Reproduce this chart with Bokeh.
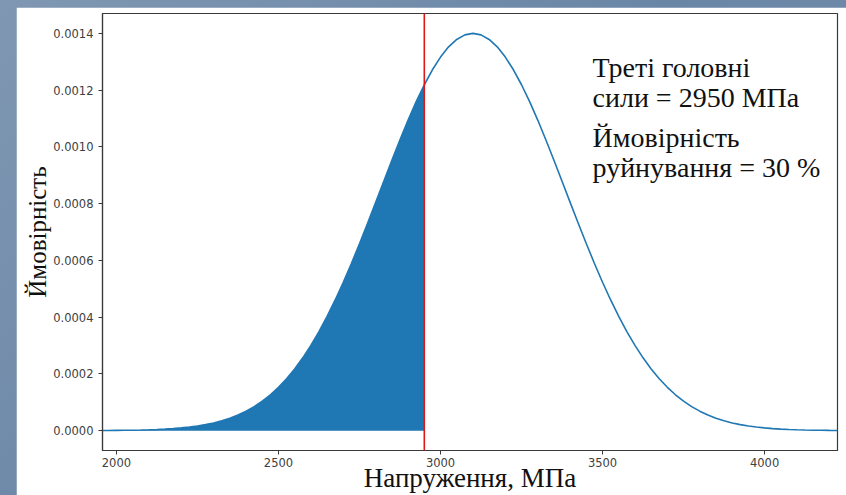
from bokeh.plotting import figure
from bokeh.layouts import column
from bokeh.models import Range1d, FixedTicker, PrintfTickFormatter, Span, Title
from bokeh.embed import file_html
from bokeh.resources import INLINE

# Stress values (MPa) and the probability density
stress = [1950, 1975, 2000, 2025, 2050, 2075, 2100, 2125, 2150, 2175,
          2200, 2225, 2250, 2275, 2300, 2325, 2350, 2375, 2400, 2425,
          2450, 2475, 2500, 2525, 2550, 2575, 2600, 2625, 2650, 2675,
          2700, 2725, 2750, 2775, 2800, 2825, 2850, 2875, 2900, 2925,
          2950, 2975, 3000, 3025, 3050, 3075, 3100, 3125, 3150, 3175,
          3200, 3225, 3250, 3275, 3300, 3325, 3350, 3375, 3400, 3425,
          3450, 3475, 3500, 3525, 3550, 3575, 3600, 3625, 3650, 3675,
          3700, 3725, 3750, 3775, 3800, 3825, 3850, 3875, 3900, 3925,
          3950, 3975, 4000, 4025, 4050, 4075, 4100, 4125, 4150, 4175,
          4200, 4225, 4250]
density = [0.0000004, 0.0000006, 0.0000008, 0.0000011, 0.0000016, 0.0000022,
           0.0000030, 0.0000040, 0.0000054, 0.0000072, 0.0000096, 0.0000126,
           0.0000164, 0.0000212, 0.0000272, 0.0000347, 0.0000439, 0.0000551,
           0.0000686, 0.0000847, 0.0001039, 0.0001264, 0.0001527, 0.0001829,
           0.0002175, 0.0002566, 0.0003004, 0.0003491, 0.0004025, 0.0004605,
           0.0005228, 0.0005891, 0.0006586, 0.0007307, 0.0008045, 0.0008789,
           0.0009529, 0.0010252, 0.0010945, 0.0011595, 0.0012189, 0.0012716,
           0.0013164, 0.0013524, 0.0013786, 0.0013946, 0.0014000, 0.0013946,
           0.0013786, 0.0013524, 0.0013164, 0.0012716, 0.0012189, 0.0011595,
           0.0010945, 0.0010252, 0.0009529, 0.0008789, 0.0008045, 0.0007307,
           0.0006586, 0.0005891, 0.0005228, 0.0004605, 0.0004025, 0.0003491,
           0.0003004, 0.0002566, 0.0002175, 0.0001829, 0.0001527, 0.0001264,
           0.0001039, 0.0000847, 0.0000686, 0.0000551, 0.0000439, 0.0000347,
           0.0000272, 0.0000212, 0.0000164, 0.0000126, 0.0000096, 0.0000072,
           0.0000054, 0.0000040, 0.0000030, 0.0000022, 0.0000016, 0.0000011,
           0.0000008, 0.0000006, 0.0000004]

# Third principal stress and the failure probability it gives
critical_stress = 2950
failure_pct = 30

x_ticks = [2000, 2500, 3000, 3500, 4000]
y_ticks = [0.0, 0.0002, 0.0004, 0.0006, 0.0008, 0.0010, 0.0012, 0.0014]

BLUE = "#1f77b4"
AXIS = "#3a3a3a"
SERIF = "Liberation Serif"

p = figure(width=830, height=488,
           x_range=Range1d(1957, 4225), y_range=Range1d(-0.00007, 0.00147),
           output_backend="svg", toolbar_location=None,
           min_border_left=86, min_border_right=9,
           min_border_top=6, min_border_bottom=45,
           margin=(7, 0, 0, 16))
p.border_fill_color = "white"
p.background_fill_color = "white"
p.outline_line_color = AXIS
p.outline_line_width = 1.2
p.xgrid.visible = False
p.ygrid.visible = False

# shaded failure region left of the critical stress
n_fill = sum(1 for s in stress if s <= critical_stress)
p.varea(x=stress[:n_fill], y1=[0] * n_fill, y2=density[:n_fill], fill_color=BLUE)
p.line(stress, density, line_color=BLUE, line_width=1.6)
p.add_layout(Span(location=critical_stress, dimension="height",
                  line_color="#e01818", line_width=1.6))

for ax in (p.xaxis[0], p.yaxis[0]):
    ax.axis_line_color = AXIS
    ax.axis_line_width = 1.2
    ax.major_tick_line_color = AXIS
    ax.major_tick_in = 0
    ax.major_tick_out = 4
    ax.minor_tick_line_color = None
    ax.major_label_text_font = "DejaVu Sans"
    ax.major_label_text_font_size = "11.5px"
    ax.major_label_text_color = "#404040"

p.xaxis.ticker = FixedTicker(ticks=x_ticks)
p.xaxis.major_label_standoff = 3
p.xaxis.axis_label = "Напруження, МПа"
p.xaxis.axis_label_text_font = SERIF
p.xaxis.axis_label_text_font_style = "normal"
p.xaxis.axis_label_text_font_size = "27px"
p.xaxis.axis_label_text_color = "#111111"
p.xaxis.axis_label_standoff = -7

p.yaxis.ticker = FixedTicker(ticks=y_ticks)
p.yaxis.formatter = PrintfTickFormatter(format="%.4f")
p.yaxis.major_label_standoff = 5

p.add_layout(Title(text="Ймовірність", align="center", offset=28,
                   text_font=SERIF, text_font_size="25px",
                   text_font_style="normal", text_color="#111111",
                   standoff=0), "left")

# annotation text in the upper right of the plot (a leading empty entry
# keeps the per-row font column from collapsing to a single value)
note_text = ["",
             "Треті головні",
             f"сили = {critical_stress} МПа",
             "Ймовірність",
             f"руйнування = {failure_pct} %"]
note_y = [0.001280, 0.001280, 0.001175, 0.001034, 0.000928]
note_font = ["serif", "Times New Roman", "serif", "Times New Roman", "serif"]
p.text(x=[3469] * len(note_text), y=note_y, text=note_text,
       text_font=note_font, text_font_size="28px",
       text_color="#111111", text_baseline="alphabetic", text_align="left")

page = column(p, width=846, height=495,
              styles={"background": "linear-gradient(135deg, #7f97b2 0%, #6a86a6 50%, #7690ad 100%)"})

open("out.html", "w").write(file_html(page, INLINE))
